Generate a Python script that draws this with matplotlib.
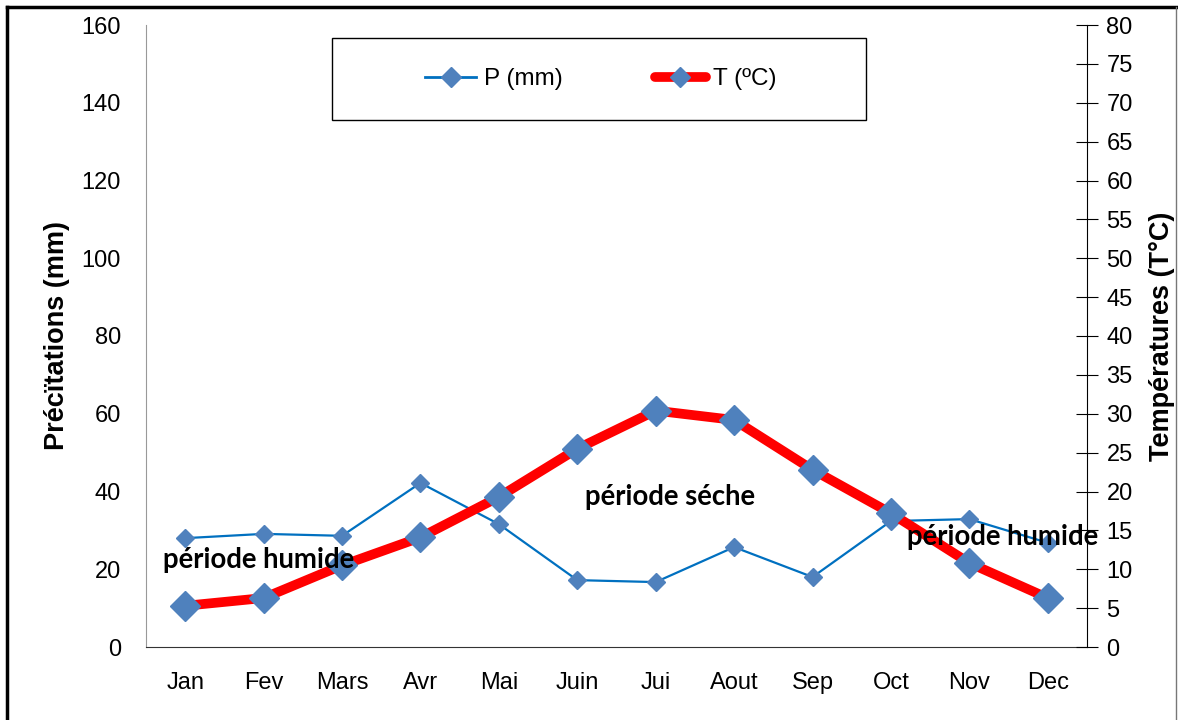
import matplotlib.pyplot as plt
from matplotlib.lines import Line2D
from matplotlib.patches import Rectangle

plt.rcParams['font.family'] = ['Liberation Sans', 'DejaVu Sans']

# Monthly data
months = ['Jan', 'Fev', 'Mars', 'Avr', 'Mai', 'Juin', 'Jui', 'Aout', 'Sep', 'Oct', 'Nov', 'Dec']
precip = [28.0, 29.1, 28.6, 42.2, 31.6, 17.2, 16.7, 25.7, 18.0, 32.4, 32.9, 26.8]
temp = [5.3, 6.3, 10.5, 14.1, 19.3, 25.5, 30.4, 29.2, 22.8, 17.2, 10.8, 6.3]

x = list(range(len(months)))

fig = plt.figure(figsize=(11.78, 7.2), dpi=100)
ax = fig.add_axes([146 / 1178, 73 / 720, (1087 - 146) / 1178, (647 - 25) / 720])
ax2 = ax.twinx()

# precipitation line (left axis)
ax.plot(x, precip, color='#0070C0', lw=1.6, marker='D', markersize=9,
        markerfacecolor='#4F81BD', markeredgecolor='#4F81BD', zorder=3)
ax.set_ylim(0, 160)
ax.set_yticks(range(0, 161, 20))
ax.set_xlim(-0.5, 11.5)
ax.set_xticks(x)
ax.set_xticklabels(months)
ax.tick_params(axis='both', length=0, labelsize=17)
ax.tick_params(axis='x', pad=18)
ax.tick_params(axis='y', pad=18)
ax.spines['top'].set_visible(False)
ax.spines['right'].set_visible(False)
ax.spines['left'].set_color('#999999')
ax.spines['bottom'].set_color('#333333')
ax.set_ylabel('Précïtations (mm)', fontsize=19.5, fontweight='bold')
ax.yaxis.set_label_coords((70 - 146) / 941, 0.5)

# temperature line (right axis)
ax2.plot(x, temp, color='#FF0000', lw=7, marker='D', markersize=15,
         markerfacecolor='#4F81BD', markeredgecolor='#4F81BD', zorder=3)
ax2.set_ylim(0, 80)
ax2.set_yticks(range(0, 81, 5))
ax2.tick_params(axis='y', direction='inout', length=16, labelsize=17, pad=6, color='black')
ax2.spines['right'].set_color('black')
for s in ['top', 'left', 'bottom']:
    ax2.spines[s].set_visible(False)
ax2.set_ylabel('Températures (T°C)', fontsize=19.5, fontweight='bold')
ax2.yaxis.set_label_coords((1149 - 146) / 941, 0.5)

# period annotations (drawn on top axes so they sit over the lines; y in mm units)
ann = dict(fontsize=19.8, fontweight='bold', family=['Lato', 'DejaVu Sans'], ha='left', va='center',
           zorder=5, transform=ax.transData)
ax2.text(-0.28, 22.4, 'période humide', **ann)
ax2.text(5.1, 38.6, 'période séche', **ann)
ax2.text(9.2, 28.3, 'période humide', **ann)

# legend box
fig.add_artist(Rectangle((332 / 1178, 1 - 120 / 720), (866 - 332) / 1178, 82 / 720,
                         transform=fig.transFigure, fill=False, edgecolor='black', lw=1))
handles = [
    Line2D([], [], color='#0070C0', lw=2, marker='D', markersize=10,
           markerfacecolor='#4F81BD', markeredgecolor='#4F81BD'),
    Line2D([], [], color='#FF0000', lw=7, marker='D', markersize=10, solid_capstyle='round',
           markerfacecolor='#4F81BD', markeredgecolor='#4F81BD'),
]
fig.legend(handles, ['P (mm)', 'T (ºC)'], loc='center', bbox_to_anchor=(601 / 1178, 1 - 79 / 720),
           ncol=2, frameon=False, fontsize=17.5, handlelength=2.1, columnspacing=3.8, handletextpad=0.3)

# outer frame
fig.add_artist(Line2D([7 / 1178, 7 / 1178], [0, 1 - 7 / 720], transform=fig.transFigure, color='black', lw=2.5))
fig.add_artist(Line2D([7 / 1178, 1176 / 1178], [1 - 7 / 720, 1 - 7 / 720], transform=fig.transFigure, color='black', lw=2.5))
fig.add_artist(Line2D([1176 / 1178, 1176 / 1178], [0, 1 - 7 / 720], transform=fig.transFigure, color='#777777', lw=1))

fig.savefig('out.png', dpi=100)
